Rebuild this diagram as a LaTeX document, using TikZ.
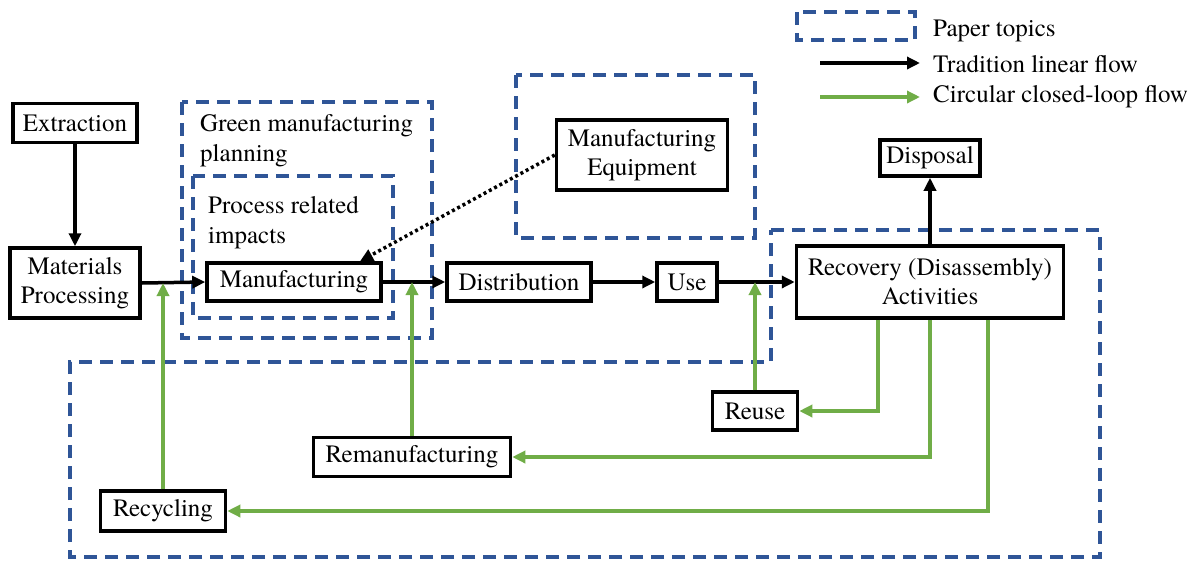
\documentclass[tikz,border=0pt]{standalone}
\usepackage{fontspec}
\setmainfont{TeX Gyre Termes}
\usetikzlibrary{arrows.meta}
\definecolor{topicblue}{RGB}{47,85,151}
\definecolor{loopgreen}{RGB}{112,173,71}
\begin{document}
\begin{tikzpicture}[x=1pt,y=-1pt,
  box/.style={draw=black,line width=3.5pt,fill=white,inner sep=0pt,align=center,font=\rmfamily\fontsize{25}{29}\selectfont},
  lbl/.style={inner sep=0pt,align=left,font=\rmfamily\fontsize{25}{30}\selectfont},
  topic/.style={draw=topicblue,line width=3.5pt,dash pattern=on 13pt off 8pt},
  flow/.style={line width=3.5pt,-{Triangle[length=13pt,width=12pt]}},
  lin/.style={flow,draw=black},
  loopflow/.style={flow,draw=loopgreen},
  dotflow/.style={line width=3.5pt,dash pattern=on 3pt off 3pt,-{Triangle[length=13pt,width=12pt]}}]
\useasboundingbox (0,0) rectangle (1202,563);

% paper topic regions
\draw[topic] (182,102) rectangle (432,338);
\draw[topic] (193,176) rectangle (393,318);
\draw[topic] (516,75) rectangle (755,238);
\draw[topic] (771,230) -- (1100,230) -- (1100,557) -- (70,557) -- (70,362) -- (771,362) -- cycle;

\node[lbl,anchor=north west] (gmp) at (200,114) {Green manufacturing\\planning};
\node[lbl,anchor=north west] (pri) at (208,196) {Process related\\impacts};

% legend
\draw[topic] (797,12) rectangle (915,40);
\node[lbl,anchor=west] (lg1) at (933,31) {Paper topics};
\coordinate (la1) at (820,63);
\coordinate (la2) at (920,63);
\draw[lin] (la1) -- (la2);
\node[lbl,anchor=west] (lg2) at (933,64) {Tradition linear flow};
\coordinate (lb1) at (820,97);
\coordinate (lb2) at (920,97);
\draw[loopflow] (lb1) -- (lb2);
\node[lbl,anchor=west] (lg3) at (933,97) {Circular closed-loop flow};

% boxes
\node[box,minimum width=124pt,minimum height=39pt] (ext) at (75,123) {Extraction};
\node[box,minimum width=130pt,minimum height=70pt] (mp) at (75,283) {Materials\\Processing};
\node[box,minimum width=174pt,minimum height=38pt] (man) at (294,282) {Manufacturing};
\node[box,minimum width=144pt,minimum height=38pt] (dist) at (519,282) {Distribution};
\node[box,minimum width=60pt,minimum height=38pt] (use) at (687,282) {Use};
\node[box,minimum width=267pt,minimum height=72pt] (rec) at (930,282) {Recovery (Disassembly)\\Activities};
\node[box,minimum width=100pt,minimum height=36pt] (disp) at (930,158) {Disposal};
\node[box,minimum width=171pt,minimum height=70pt] (equip) at (642,155) {Manufacturing\\Equipment};
\node[box,minimum width=85pt,minimum height=38pt] (reuse) at (755,411) {Reuse};
\node[box,minimum width=197pt,minimum height=39pt] (reman) at (412,457) {Remanufacturing};
\node[box,minimum width=125pt,minimum height=40pt] (recy) at (163,511) {Recycling};

% linear flow
\draw[lin] (ext) -- (mp);
\draw[lin] (mp.east) -- (man.west);
\draw[lin] (man) -- (dist);
\draw[lin] (dist) -- (use);
\draw[lin] (use) -- (rec.west |- use.east);
\draw[lin] (rec.north) -- (disp.south);
\draw[dotflow] (equip.west) -- ([xshift=66pt]man.north);

% closed loop flow
\draw[loopflow] (recy.north) -- (recy.north |- mp.east);
\draw[loopflow] (reman.north) -- (reman.north |- man.east);
\draw[loopflow] (reuse.north) -- (reuse.north |- use.east);
\draw[loopflow] ([xshift=-52pt]rec.south) |- (reuse.east);
\draw[loopflow] (rec.south) |- (reman.east);
\draw[loopflow] ([xshift=58pt]rec.south) |- (recy.east);
\end{tikzpicture}
\end{document}
